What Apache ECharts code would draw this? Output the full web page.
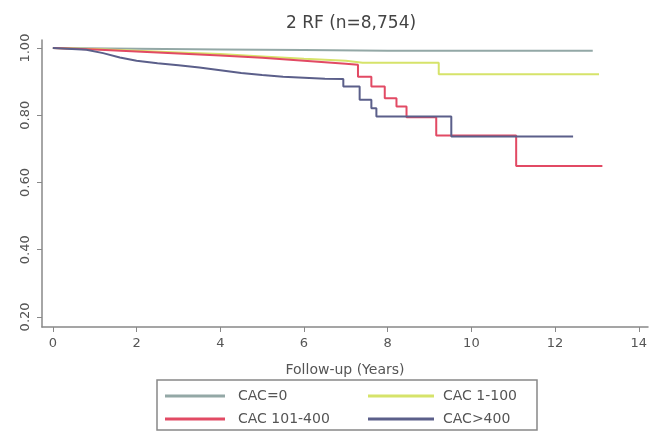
<!DOCTYPE html>
<html>
<head>
<meta charset="utf-8">
<script src="https://cdn.jsdelivr.net/npm/echarts@6/dist/echarts.min.js"></script>
<style>html,body{margin:0;padding:0;background:#fff;}#c{width:652px;height:431px;}</style>
</head>
<body>
<div id="c"></div>
<script>
const titleText = '2 RF (n=8,754)';
const xTicks = [0, 2, 4, 6, 8, 10, 12, 14];
const yTicks = [0.2, 0.4, 0.6, 0.8, 1.0];
const seriesNames = ['CAC=0', 'CAC 1-100', 'CAC 101-400', 'CAC>400'];

// Kaplan-Meier curves: repeated times mark vertical drops
const cac0T = [0, 2, 4, 6, 8, 12.9];
const cac0S = [1.0, 0.998, 0.996, 0.994, 0.992, 0.992];

const cac1T = [0, 1, 2, 3, 4, 5, 6, 7, 7.4, 9.22, 9.22, 13.05];
const cac1S = [1.0, 0.997, 0.992, 0.987, 0.982, 0.975, 0.968, 0.962, 0.956, 0.956, 0.922, 0.922];

const cac2T = [0, 1, 2, 3, 4, 5, 6, 7, 7.29, 7.29, 7.61, 7.61, 7.93, 7.93, 8.21, 8.21, 8.45, 8.45, 9.16, 9.16, 11.07, 11.07, 13.13];
const cac2S = [1.0, 0.996, 0.99, 0.984, 0.978, 0.971, 0.962, 0.953, 0.95, 0.915, 0.915, 0.886, 0.886, 0.851, 0.851, 0.826, 0.826, 0.794, 0.794, 0.74, 0.74, 0.649, 0.649];

const cac3T = [0, 0.8, 1.2, 1.6, 2, 2.5, 3, 3.5, 4, 4.5, 5, 5.5, 6, 6.5, 6.94, 6.94, 7.33, 7.33, 7.61, 7.61, 7.73, 7.73, 9.52, 9.52, 12.43];
const cac3S = [1.0, 0.995, 0.985, 0.972, 0.962, 0.955, 0.949, 0.942, 0.934, 0.926, 0.92, 0.915, 0.912, 0.909, 0.908, 0.886, 0.886, 0.846, 0.846, 0.821, 0.821, 0.796, 0.796, 0.737, 0.737];

const colors = ['#93a8a6', '#d6e36a', '#e24a64', '#5b5f8a'];
const allT = [cac0T, cac1T, cac2T, cac3T];
const allS = [cac0S, cac1S, cac2S, cac3S];

const font = 'DejaVu Sans';
const chart = echarts.init(document.getElementById('c'));
const legendCommon = {
  orient: 'vertical', top: 389, padding: 0, icon: 'rect', itemHeight: 3, itemGap: 9
};
chart.setOption({
  animation: false,
  backgroundColor: '#fff',
  textStyle: { fontFamily: font },
  title: {
    text: titleText, left: 346, top: 10, textAlign: 'center',
    textStyle: { fontFamily: font, fontSize: 17, fontWeight: 'normal', color: '#444' }
  },
  grid: { left: 42, right: 4, top: 40, bottom: 104, containLabel: false, outerBoundsMode: 'none' },
  xAxis: {
    type: 'value', min: -0.26, max: 14.22,
    axisLine: { onZero: false, lineStyle: { color: '#888', width: 1.5 } },
    axisTick: { customValues: xTicks, length: 5, lineStyle: { color: '#888' } },
    axisLabel: { customValues: xTicks, fontSize: 13, color: '#555', margin: 10, fontFamily: font },
    splitLine: { show: false },
    name: 'Follow-up (Years)', nameLocation: 'middle', nameGap: 36,
    nameTextStyle: { fontSize: 14, color: '#555', fontFamily: font }
  },
  yAxis: {
    type: 'value', min: 0.17, max: 1.024,
    axisLine: { show: true, onZero: false, lineStyle: { color: '#888', width: 1.5 } },
    axisTick: { show: true, customValues: yTicks, length: 5, lineStyle: { color: '#888' } },
    axisLabel: { customValues: yTicks, rotate: 90, fontSize: 13, color: '#555', margin: 10, fontFamily: font,
      formatter: v => v.toFixed(2) },
    splitLine: { show: false }
  },
  legend: [
    Object.assign({ data: [seriesNames[0], seriesNames[2]], left: 165, itemWidth: 60,
      textStyle: { fontSize: 14, color: '#555', fontFamily: font, padding: [0, 0, 0, 8] } }, legendCommon),
    Object.assign({ data: [seriesNames[1], seriesNames[3]], left: 368, itemWidth: 66,
      textStyle: { fontSize: 14, color: '#555', fontFamily: font, padding: [0, 0, 0, 4] } }, legendCommon)
  ],
  graphic: [
    { type: 'rect', shape: { x: 157, y: 380, width: 380, height: 50 },
      style: { fill: 'none', stroke: '#888', lineWidth: 1.5 }, z: 100 }
  ],
  series: seriesNames.map((n, i) => ({
    name: n, type: 'line', symbol: 'none',
    data: allT[i].map((t, j) => [t, allS[i][j]]),
    itemStyle: { color: colors[i] },
    lineStyle: { color: colors[i], width: 2 }
  }))
});
</script>
</body>
</html>
